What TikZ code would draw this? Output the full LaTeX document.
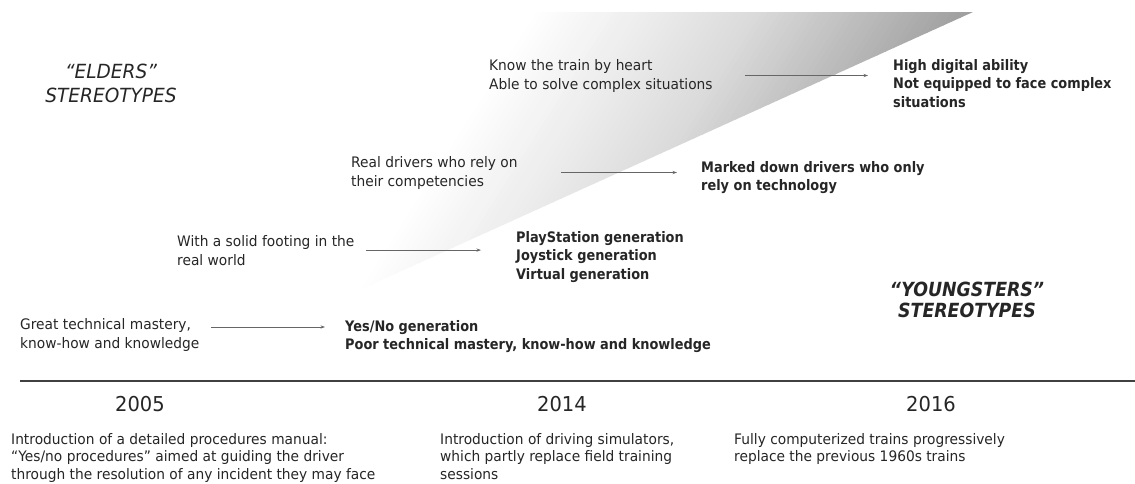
\documentclass[tikz,border=0pt]{standalone}
\usepackage{fontspec}
\setmainfont{DejaVu Sans}
\newfontfamily\regf{DejaVu Sans}[FakeStretch=0.95]
\newfontfamily\boldf{DejaVu Sans}[FakeStretch=0.89]
\usetikzlibrary{arrows.meta}
\begin{document}
\begin{tikzpicture}[x=1pt,y=-1pt,
  txt/.style={inner sep=0pt, anchor=base west, align=left, text=black!85,
    font=\regf\fontsize{14.5}{19}\selectfont},
  btxt/.style={txt, font=\boldf\bfseries\fontsize{14.5}{18.5}\selectfont},
  bottxt/.style={txt, font=\regf\fontsize{14.5}{17.8}\selectfont},
  yeartxt/.style={inner sep=0pt, anchor=base, text=black!85,
    font=\regf\fontsize{20.5}{24}\selectfont},
  headtxt/.style={inner sep=0pt, anchor=base, align=center, text=black!85,
    font=\regf\itshape\fontsize{19.5}{24.5}\selectfont},
  bheadtxt/.style={headtxt, font=\boldf\bfseries\itshape\fontsize{19.5}{21}\selectfont},
  arr/.style={draw=black!60, line width=0.9pt, -{Stealth[length=4.5pt,width=3.2pt]}}]
\useasboundingbox[fill=white] (0,0) rectangle (1135,483);

% shaded triangle, gradient running towards the lower right (built from thin strips)
\begin{scope}
  \clip (355,292) -- (973,12) -- (355,12) -- cycle;
  \begin{scope}[rotate=-32.4]
    \foreach \i in {0,...,74}{
      \pgfmathsetmacro\pc{\i<37 ? 14*\i/37 : 14+24*(\i-37)/37}
      \pgfmathsetmacro\ua{455+5*\i}
      \pgfmathsetmacro\ub{\ua+5.6}
      \fill[black!\pc] (\ua,-700) rectangle (\ub,700);
    }
  \end{scope}
\end{scope}

% stereotypes headings (base anchor = last line)
\node[headtxt] (elders) at (111,102.5) {“ELDERS”\\STEREOTYPES};
\node[bheadtxt] (young) at (967,317) {“YOUNGSTERS”\\STEREOTYPES};

% row 1
\node[txt] (k1) at (489,89) {Know the train by heart\\Able to solve complex situations};
\node[btxt] (k2) at (893,107) {High digital ability\\Not equipped to face complex\\situations};
\draw[arr] ([xshift=-148pt]k2.west |- k1.east) -- ([xshift=-25pt]k2.west |- k1.east);

% row 2
\node[txt] (r1) at (351,186) {Real drivers who rely on\\their competencies};
\node[btxt] (r2) at (701,190.5) {Marked down drivers who only\\rely on technology};
\draw[arr] ([xshift=-140pt]r2.west |- r1.east) -- ([xshift=-24pt]r2.west |- r1.east);

% row 3
\node[txt] (w1) at (177,265) {With a solid footing in the\\real world};
\node[btxt] (w2) at (516,279) {PlayStation generation\\Joystick generation\\Virtual generation};
\draw[arr] ([xshift=-150pt]w2.west |- w1.east) -- ([xshift=-35pt]w2.west |- w1.east);

% row 4
\node[txt] (g1) at (20,348) {Great technical mastery,\\know-how and knowledge};
\node[btxt] (g2) at (345,349.5) {Yes/No generation\\Poor technical mastery, know-how and knowledge};
\draw[arr] ([xshift=-134pt,yshift=21pt]g2.west |- g1.base) -- ([xshift=-20pt,yshift=21pt]g2.west |- g1.base);

% timeline
\draw[line width=1.3pt, black!75] (20,381) -- (1135,381);

\node[yeartxt] (y05) at (140,411) {2005};
\node[yeartxt] (y14) at (562,411) {2014};
\node[yeartxt] (y16) at (931,411) {2016};

\node[bottxt] (d05) at (11,479.6) {Introduction of a detailed procedures manual:\\“Yes/no procedures” aimed at guiding the driver\\through the resolution of any incident they may face};
\node[bottxt] (d14) at (440,479.6) {Introduction of driving simulators,\\which partly replace field training\\sessions};
\node[bottxt] (d16) at (734,461.8) {Fully computerized trains progressively\\replace the previous 1960s trains};
\end{tikzpicture}
\end{document}
